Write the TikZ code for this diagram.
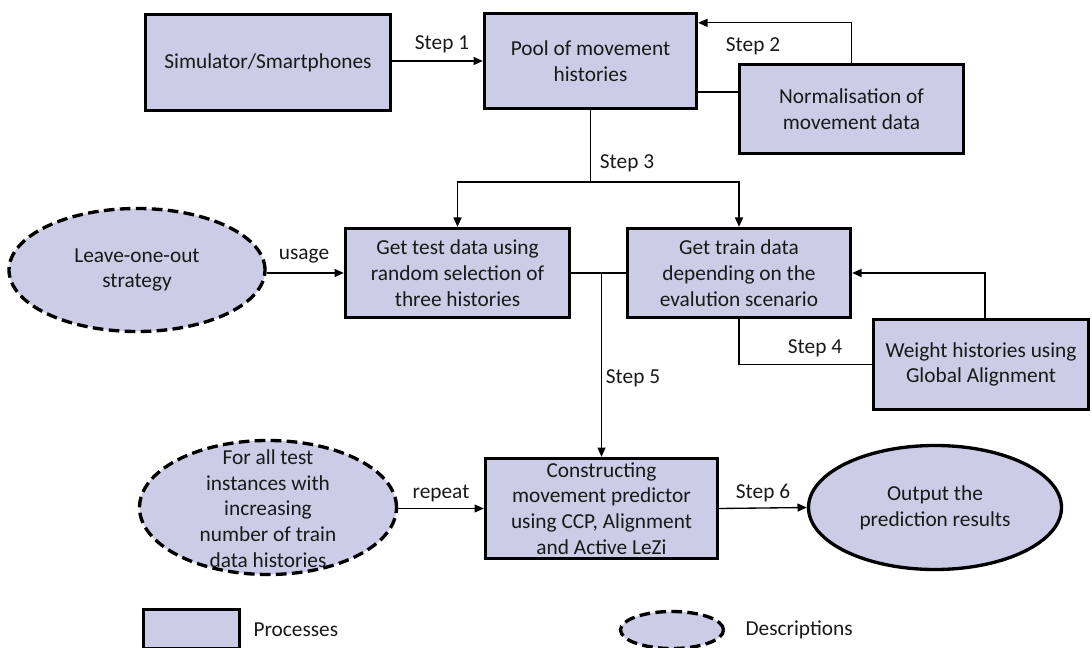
\documentclass[tikz,border=0pt]{standalone}
\usepackage{fontspec}
\setmainfont{Carlito}
\usetikzlibrary{shapes.geometric,arrows.meta,calc}

\definecolor{boxfill}{RGB}{204,204,230}
\definecolor{txt}{RGB}{25,25,25}

\tikzset{every picture/.style={line width=0.75pt}}
\tikzset{
  process/.style={draw, fill=boxfill, line width=2.5pt, inner sep=0pt, align=center},
  descr/.style={ellipse, draw, fill=boxfill, line width=2.5pt, dash pattern=on 8pt off 4pt, inner sep=0pt, align=center},
  result/.style={ellipse, draw, fill=boxfill, line width=2.5pt, inner sep=0pt, align=center},
  lbl/.style={inner sep=0pt},
  conn/.style={line width=1pt},
  arr/.style={-{Triangle[length=7pt,width=6pt]}},
}

\begin{document}
\begin{tikzpicture}[x=0.75pt,y=0.75pt,yscale=-1,xscale=1,
  every node/.style={font=\fontsize{16}{19.3}\selectfont, text=txt}]
\useasboundingbox (0,0) rectangle (1092,648);
\clip (0,0) rectangle (1092,648);

% Process boxes
\node[process, minimum width=183.75pt, minimum height=72pt] (sim) at (268,62.5) {Simulator/Smartphones};
\node[process, minimum width=159pt, minimum height=71.25pt] (pool) at (590.5,61) {Pool of movement\\histories};
\node[process, minimum width=168pt, minimum height=66.75pt] (norm) at (851.5,109) {Normalisation of\\movement data};
\node[process, minimum width=168pt, minimum height=66.75pt] (test) at (457.5,273) {Get test data using\\random selection of\\three histories};
\node[process, minimum width=167.25pt, minimum height=66.75pt] (train) at (739,273) {Get train data\\depending on the\\evalution scenario};
\node[process, minimum width=161.25pt, minimum height=67.5pt] (weight) at (981,364.5) {Weight histories using\\Global Alignment};
\node[process, minimum width=174pt, minimum height=75pt] (construct) at (601.5,508.5) {Constructing\\movement predictor\\using CCP, Alignment\\and Active LeZi};

% Descriptions and result
\node[descr, minimum width=192pt, minimum height=92.25pt] (loo) at (137,270) {Leave-one-out\\strategy};
\node[descr, minimum width=192.75pt, minimum height=100.5pt] (forall) at (268,507.5) {};
\node[align=center] (foralltxt) at (268,508.5) {For all test\\instances with\\increasing\\number of train\\data histories};
\node[result, minimum width=189.75pt, minimum height=93pt] (output) at (935,507.5) {Output the\\prediction results};

% Connectors
\draw[conn, arr] (pool.west -| sim.east) -- (pool.west);
\draw[conn, arr] (norm.north) |- ($(pool.north east)+(0,11)$);
\coordinate (pn) at ($(pool.south east)+(0,-18)$);
\draw[conn] (pn) -- (pn -| norm.west);
\coordinate (split) at (pool.south |- 0,182);
\draw[conn] (pool.south) -- (split);
\draw[conn, arr] (split) -| (test.north);
\draw[conn, arr] (split) -| (train.north);
\draw[conn, arr] (test.west -| loo.east) -- (test.west);
\draw[conn] (test.east) -- (train.west);
\draw[conn, arr] (test.east -| construct.north) -- (construct.north);
\draw[conn] (train.south) |- (weight.west);
\draw[conn, arr] ([xshift=3pt]weight.north) |- (train.east);
\draw[conn, arr] (construct.west -| forall.east) -- (construct.west);
\draw[conn, arr] (construct.east) -- (output.west);

% Step labels
\node[lbl] (step1) at (442,44) {Step 1};
\node[lbl] (step2) at (753,46) {Step 2};
\node[lbl] (step3) at (627,163) {Step 3};
\node[lbl] (usage) at (304,256) {usage};
\node[lbl] (step4) at (815,348) {Step 4};
\node[lbl] (step5) at (633,378) {Step 5};
\node[lbl] (repeat) at (441,493) {repeat};
\node[lbl] (step6) at (763,493) {Step 6};

% Legend
\node[process, minimum width=72pt, minimum height=29.25pt] (legproc) at (191.5,629) {};
\node[lbl, anchor=west] (legproctxt) at (253,630) {Processes};
\node[descr, minimum width=77.25pt, minimum height=27.75pt] (legdesc) at (672,630) {};
\node[lbl, anchor=west] (legdesctxt) at (745,630) {Descriptions};

\end{tikzpicture}
\end{document}
